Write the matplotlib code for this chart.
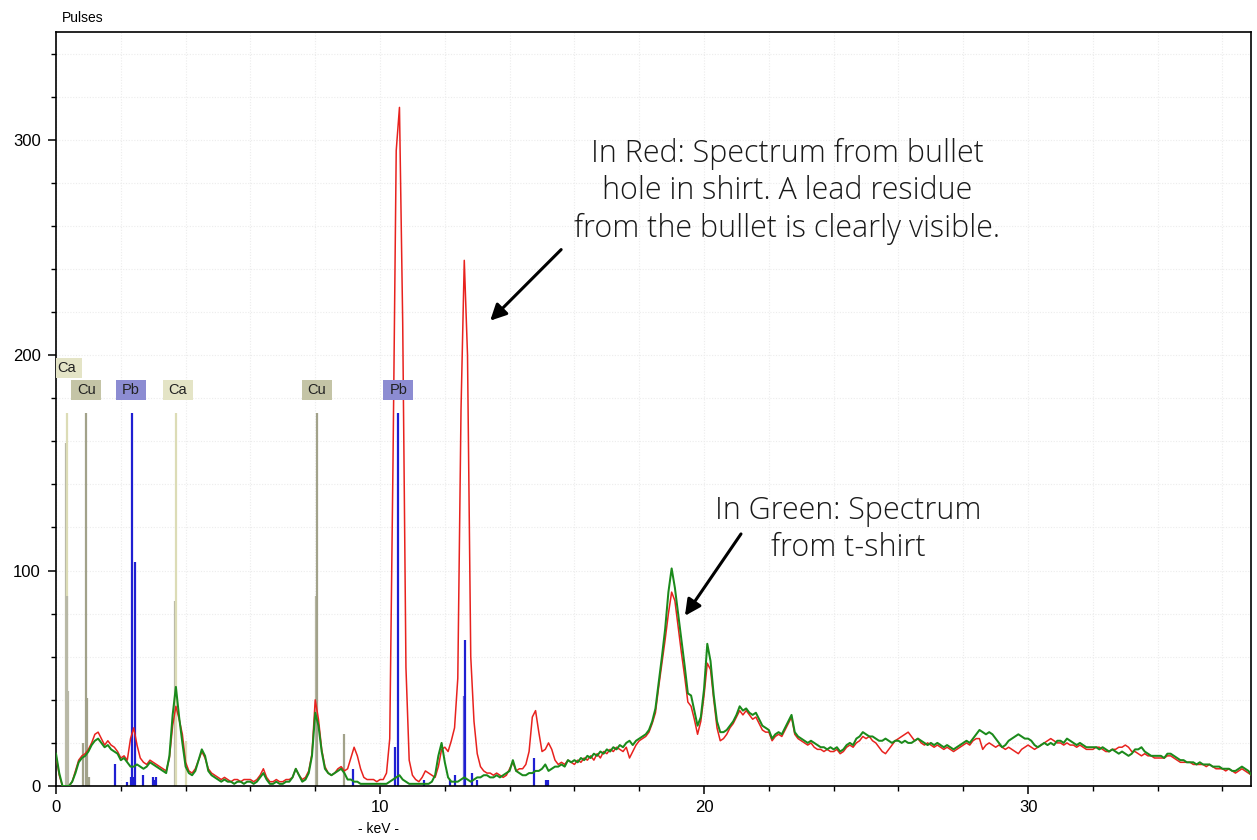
import numpy as np
import matplotlib
matplotlib.use("Agg")
import matplotlib.pyplot as plt
from matplotlib.ticker import MultipleLocator
from matplotlib.patches import Rectangle

# ---------------- data ----------------
# channel energies (keV), 0.1 keV bins
energy_kev = np.round(np.arange(370) * 0.1, 1)

# Green: spectrum from t-shirt
green_counts = [
    15, 6, 0, 0, 0, 2, 6, 11, 13, 14,
    16, 19, 21, 22, 20, 18, 19, 17, 16, 15,
    12, 13, 11, 9, 9, 10, 9, 8, 9, 11,
    10, 9, 8, 7, 6, 14, 33, 46, 32, 20,
    9, 6, 5, 7, 12, 17, 14, 7, 5, 4,
    3, 2, 3, 2, 2, 1, 2, 2, 1, 2,
    2, 1, 2, 4, 6, 3, 1, 1, 2, 1,
    1, 2, 2, 4, 8, 5, 2, 3, 6, 14,
    34, 28, 16, 8, 6, 5, 6, 7, 8, 6,
    3, 3, 2, 2, 1, 1, 1, 1, 1, 1,
    1, 1, 1, 2, 3, 4, 5, 3, 2, 1,
    1, 1, 1, 1, 1, 1, 2, 5, 14, 20,
    11, 4, 2, 2, 2, 3, 4, 3, 2, 3,
    4, 4, 5, 5, 4, 4, 5, 4, 5, 6,
    7, 12, 7, 6, 5, 5, 6, 6, 7, 7,
    8, 10, 7, 8, 9, 9, 10, 9, 12, 11,
    12, 11, 13, 12, 14, 13, 15, 14, 16, 15,
    17, 16, 18, 17, 19, 18, 20, 21, 19, 21,
    22, 23, 24, 26, 30, 36, 48, 60, 73, 90,
    101, 92, 80, 68, 56, 43, 42, 35, 28, 32,
    45, 66, 58, 42, 30, 25, 25, 26, 28, 30,
    33, 37, 35, 36, 34, 33, 34, 31, 28, 27,
    26, 22, 24, 25, 24, 27, 30, 33, 25, 23,
    22, 21, 20, 21, 20, 19, 18, 18, 17, 18,
    17, 18, 16, 17, 19, 20, 19, 22, 23, 25,
    24, 23, 23, 22, 21, 21, 22, 21, 20, 21,
    21, 20, 21, 20, 20, 21, 22, 21, 20, 19,
    20, 19, 20, 19, 18, 19, 18, 17, 18, 19,
    20, 21, 20, 22, 24, 26, 25, 24, 25, 24,
    22, 20, 18, 19, 21, 22, 23, 24, 23, 22,
    22, 21, 19, 18, 19, 20, 19, 20, 19, 21,
    21, 20, 22, 21, 20, 19, 20, 19, 18, 18,
    18, 18, 17, 18, 17, 16, 17, 16, 15, 16,
    15, 14, 15, 17, 17, 18, 16, 15, 14, 14,
    14, 14, 13, 15, 15, 14, 13, 12, 12, 11,
    11, 11, 10, 11, 10, 10, 10, 9, 9, 9,
    8, 8, 8, 7, 7, 8, 9, 8, 7, 5,
]

# Red: spectrum from bullet hole
red_counts = [
    14, 5, 0, 0, 0, 2, 7, 12, 14, 15,
    17, 20, 24, 25, 22, 19, 21, 19, 18, 16,
    13, 14, 12, 22, 27, 19, 13, 11, 10, 12,
    11, 10, 9, 8, 7, 13, 28, 37, 31, 24,
    11, 7, 6, 8, 12, 16, 13, 8, 6, 5,
    4, 3, 4, 3, 2, 3, 3, 2, 3, 3,
    3, 2, 3, 5, 8, 4, 2, 2, 3, 2,
    2, 3, 3, 4, 8, 5, 3, 4, 7, 15,
    40, 31, 17, 9, 6, 5, 6, 8, 9, 7,
    8, 13, 18, 14, 8, 4, 3, 3, 3, 2,
    3, 3, 6, 22, 150, 295, 315, 215, 55, 12,
    5, 3, 2, 4, 7, 6, 5, 4, 9, 17,
    18, 16, 21, 27, 50, 175, 244, 200, 60, 30,
    15, 9, 7, 6, 6, 5, 6, 5, 4, 5,
    8, 11, 7, 8, 8, 10, 16, 32, 35, 25,
    16, 17, 20, 17, 12, 10, 11, 10, 12, 11,
    10, 12, 11, 13, 12, 14, 12, 15, 13, 16,
    15, 17, 16, 18, 17, 16, 18, 13, 16, 19,
    21, 22, 23, 25, 29, 34, 46, 57, 68, 80,
    90, 86, 74, 62, 51, 39, 37, 31, 24, 30,
    42, 57, 54, 40, 27, 21, 22, 24, 27, 29,
    32, 35, 33, 35, 33, 31, 32, 29, 26, 25,
    25, 21, 23, 24, 23, 26, 29, 32, 24, 22,
    21, 20, 19, 20, 18, 17, 17, 16, 17, 16,
    16, 17, 15, 16, 18, 19, 18, 20, 21, 23,
    22, 23, 21, 20, 18, 16, 15, 17, 19, 21,
    22, 23, 24, 25, 23, 21, 22, 20, 19, 20,
    19, 18, 19, 18, 17, 18, 17, 16, 17, 18,
    19, 20, 19, 21, 22, 22, 17, 19, 20, 19,
    18, 19, 18, 17, 18, 17, 16, 15, 17, 18,
    19, 18, 17, 18, 19, 20, 21, 22, 21, 20,
    20, 19, 20, 19, 19, 18, 19, 18, 17, 17,
    17, 18, 18, 17, 16, 16, 17, 17, 18, 18,
    19, 18, 16, 16, 15, 14, 15, 14, 14, 13,
    13, 13, 13, 14, 14, 13, 12, 11, 11, 11,
    11, 10, 10, 10, 10, 9, 10, 9, 8, 8,
    8, 7, 8, 7, 6, 7, 8, 7, 6, 5,
]

# element marker lines (keV, relative height, element class)
line_kev = [0.31, 0.34, 0.35, 0.37, 0.84, 0.93, 0.95, 1.02,
            1.82, 2.19, 2.30, 2.34, 2.40, 2.44, 2.67, 2.98, 3.04, 3.10,
            3.67, 3.69, 4.01, 8.03, 8.05, 8.90,
            9.18, 10.45, 10.55, 11.37, 12.16, 12.31, 12.60, 12.62,
            12.83, 13.00, 14.76, 15.12, 15.18]
line_height = [159, 173, 88, 44, 20, 173, 41, 4,
               10, 2, 4, 173, 4, 104, 5, 4, 3, 4,
               86, 173, 21, 88, 173, 24,
               8, 18, 173, 3, 3, 5, 42, 68,
               6, 3, 13, 3, 3]
line_elem = ['caL', 'ca', 'caL', 'caL', 'cu', 'cu', 'cu', 'cu',
             'pb', 'pb', 'pb', 'pb', 'pb', 'pb', 'pb', 'pb', 'pb', 'pb',
             'caL', 'ca', 'ca', 'caL', 'cu', 'cu',
             'pb', 'pb', 'pb', 'pb', 'pb', 'pb', 'pbL', 'pb',
             'pb', 'pb', 'pb', 'pb', 'pb']

label_names = ['Ca', 'Cu', 'Pb', 'Ca', 'Cu', 'Pb']
label_kev = [0.34, 0.93, 2.31, 3.75, 8.04, 10.57]
label_row = [1, 0, 0, 0, 0, 0]

x_ticks = [0, 10, 20, 30]
y_ticks = [0, 100, 200, 300]

# ---------------- styles ----------------
line_colors = {'ca': '#dcdcb6', 'caL': '#b8b8a6', 'cu': '#a2a28a',
               'pb': '#1f1fd2', 'pbL': '#6c6cd6'}
box_colors = {'Ca': '#e4e4c6', 'Cu': '#c4c4a6', 'Pb': '#8c8cd2'}

W, H = 1257, 840
fig = plt.figure(figsize=(W / 100, H / 100), dpi=100)
ax = fig.add_axes([56 / W, (H - 786) / H, (1251 - 56) / W, (786 - 32) / H])

ax.set_xlim(0, 36.88)
ax.set_ylim(0, 350)

# grid
ax.xaxis.set_major_locator(MultipleLocator(10))
ax.xaxis.set_minor_locator(MultipleLocator(2))
ax.yaxis.set_major_locator(MultipleLocator(100))
ax.yaxis.set_minor_locator(MultipleLocator(20))
ax.grid(which='both', color='#ececec', linestyle=(0, (1, 1.5)), lw=0.8, zorder=0)
ax.set_axisbelow(True)

# element sticks
for k, h, e in zip(line_kev, line_height, line_elem):
    ax.vlines(k, 0, h, colors=line_colors[e], lw=1.6, zorder=2)

# spectra
ax.plot(energy_kev, red_counts, color='#e8221e', lw=1.1, zorder=3)
ax.plot(energy_kev, green_counts, color='#1b8a1b', lw=1.45, zorder=4)

# element label boxes
bw = 30 / 32.4           # keV
bh = 20 / 2.155          # counts
for name, k, row in zip(label_names, label_kev, label_row):
    yc = 184 + row * 10
    rect = Rectangle((k - bw / 2, yc - bh / 2), bw, bh, facecolor=box_colors[name],
                     edgecolor='none', zorder=5, clip_on=True)
    ax.add_patch(rect)
    t = ax.text(k, yc, name, ha='center', va='center', fontsize=10.5,
                family='Liberation Sans', color='#222222', zorder=6)
    t.set_clip_on(True)

# ticks
ax.set_xticks(x_ticks)
ax.set_yticks(y_ticks)
ax.tick_params(which='major', direction='out', length=6, width=1.1,
               labelsize=12, pad=4)
ax.tick_params(which='minor', direction='out', length=3.5, width=1.0)
ax.tick_params(axis='y', which='major', pad=5)
for lab in ax.get_xticklabels() + ax.get_yticklabels():
    lab.set_family('Liberation Sans')
for sp in ax.spines.values():
    sp.set_linewidth(1.2)

fig.text(62 / W, 1 - 18 / H, 'Pulses', fontsize=10, family='Liberation Sans',
         ha='left', va='center')
fig.text(378 / W, 1 - 829 / H, '- keV -', fontsize=10, family='Liberation Sans',
         ha='center', va='center')

# annotations
ann_font = dict(family='Open Sans', fontweight='light', fontsize=22, color='#1a1a1a')
ax.text(22.56, 276, 'In Red: Spectrum from bullet\nhole in shirt. A lead residue\nfrom the bullet is clearly visible.',
        ha='center', va='center', linespacing=1.22, **ann_font)
ax.text(24.45, 119, 'In Green: Spectrum\nfrom t-shirt',
        ha='center', va='center', linespacing=1.22, **ann_font)

arrow = dict(arrowstyle='-|>', color='black', lw=2.2, mutation_scale=24,
             shrinkA=0, shrinkB=0)
ax.annotate('', xy=(13.40, 216), xytext=(15.59, 249), arrowprops=arrow, zorder=7)
ax.annotate('', xy=(19.41, 79), xytext=(21.14, 117), arrowprops=arrow, zorder=7)

fig.savefig('out.png', dpi=100)
